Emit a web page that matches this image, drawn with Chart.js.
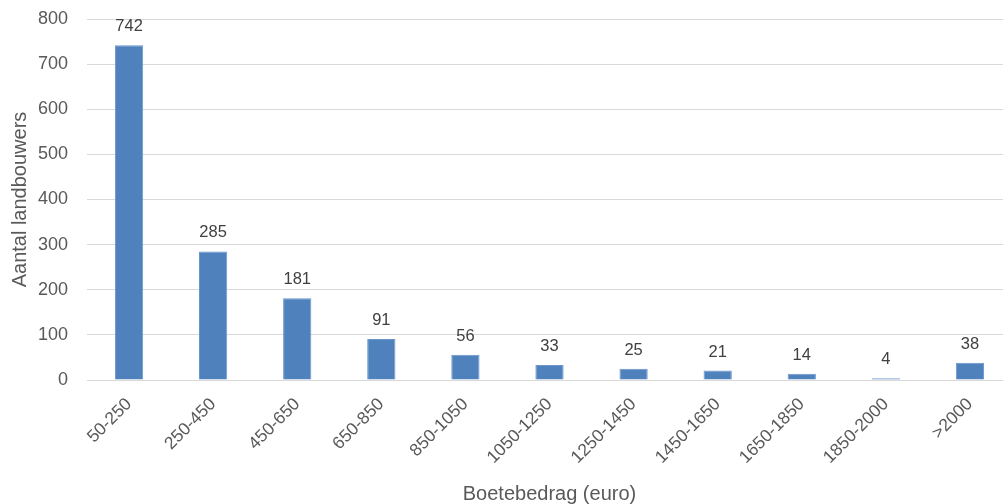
<!DOCTYPE html>
<html>
<head>
<meta charset="utf-8">
<script src="https://cdn.jsdelivr.net/npm/chart.js@4/dist/chart.umd.min.js"></script>
<style>
html,body{margin:0;padding:0;background:#fff;overflow:hidden;}
#wrap{width:1012px;height:506px;position:relative;}
</style>
</head>
<body>
<div id="wrap"><canvas id="c"></canvas></div>
<script>
const categories = ["50-250","250-450","450-650","650-850","850-1050","1050-1250","1250-1450","1450-1650","1650-1850","1850-2000",">2000"];
const values = [742,285,181,91,56,33,25,21,14,4,38];
const yTicks = [0,100,200,300,400,500,600,700,800];

const FONT = "'Liberation Sans', Arial, sans-serif";

const dataLabels = {
  id: 'dataLabels',
  afterDatasetsDraw(chart) {
    const ctx = chart.ctx;
    const meta = chart.getDatasetMeta(0);
    ctx.save();
    ctx.font = "16.5px " + FONT;
    ctx.fillStyle = "#404040";
    ctx.textAlign = "center";
    ctx.textBaseline = "alphabetic";
    meta.data.forEach((bar, i) => {
      ctx.fillText(String(values[i]), bar.x, bar.y - 14);
    });
    ctx.restore();
  }
};

new Chart(document.getElementById('c'), {
  type: 'bar',
  data: {
    labels: categories,
    datasets: [{
      data: values,
      backgroundColor: '#4F81BD',
      borderColor: '#6A96CC',
      borderWidth: 1,
      barPercentage: 0.336,
      categoryPercentage: 1.0
    }]
  },
  options: {
    responsive: true,
    maintainAspectRatio: false,
    animation: false,
    devicePixelRatio: 1,
    layout: { padding: { top: 19, left: 8, right: 0, bottom: 0 } },
    plugins: { legend: { display: false }, tooltip: { enabled: false } },
    scales: {
      x: {
        offset: true,
        afterFit(scale) { scale.height = 126; scale.paddingTop = 0; scale.paddingBottom = 0; },
        grid: { display: false, drawTicks: false },
        border: { display: true, color: '#d9d9d9', width: 1 },
        ticks: {
          color: '#595959',
          font: { family: FONT, size: 17.5 },
          minRotation: 45,
          maxRotation: 45,
          padding: 14,
          autoSkip: false
        },
        title: {
          display: true,
          text: 'Boetebedrag (euro)',
          color: '#595959',
          font: { family: FONT, size: 20 },
          padding: { top: 4, bottom: 0 }
        }
      },
      y: {
        min: 0,
        max: 800,
        afterBuildTicks(scale) { scale.ticks = yTicks.map(v => ({ value: v })); },
        afterFit(scale) { scale.width = 79; scale.paddingTop = 0; scale.paddingBottom = 0; },
        grid: { color: '#d9d9d9', drawTicks: false, lineWidth: 1 },
        border: { display: false },
        ticks: {
          color: '#595959',
          font: { family: FONT, size: 18 },
          padding: 19
        },
        title: {
          display: true,
          text: 'Aantal landbouwers',
          color: '#595959',
          font: { family: FONT, size: 20 },
          padding: { top: 0, bottom: 0 }
        }
      }
    }
  },
  plugins: [dataLabels]
});
</script>
</body>
</html>
